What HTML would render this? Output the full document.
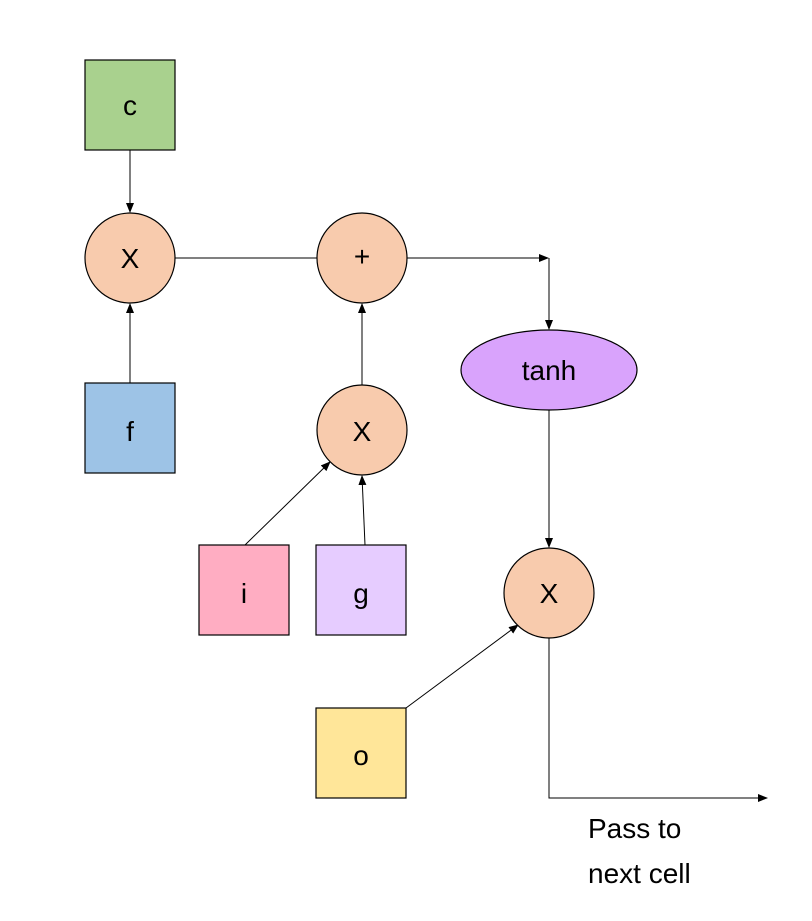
<!DOCTYPE html>
<html><head><style>body{margin:0;background:#fff}</style></head><body>
<svg width="812" height="916" xmlns="http://www.w3.org/2000/svg" font-family="Liberation Sans, sans-serif">
<defs><marker id="a" markerWidth="10" markerHeight="8" refX="9" refY="4" orient="auto" markerUnits="userSpaceOnUse"><path d="M0,0 L10,4 L0,8 z" fill="#000"/></marker></defs>
<g stroke="#000" stroke-width="1" fill="none">
<line x1="130" y1="150" x2="130" y2="212" marker-end="url(#a)"/>
<line x1="130" y1="383" x2="130" y2="304" marker-end="url(#a)"/>
<line x1="175" y1="258" x2="317" y2="258"/>
<polyline points="407,258 548,258" marker-end="url(#a)"/>
<line x1="549" y1="258" x2="549" y2="329" marker-end="url(#a)"/>
<line x1="362" y1="385" x2="362" y2="304" marker-end="url(#a)"/>
<line x1="245" y1="545" x2="330" y2="462" marker-end="url(#a)"/>
<line x1="365" y1="545" x2="362" y2="476" marker-end="url(#a)"/>
<line x1="549" y1="410" x2="549" y2="547" marker-end="url(#a)"/>
<line x1="406" y1="708" x2="518" y2="625" marker-end="url(#a)"/>
<polyline points="549,638 549,798 767,798" marker-end="url(#a)"/>
</g>
<g stroke="#000" stroke-width="1.2">
<rect x="85" y="60" width="90" height="90" fill="#a9d18e"/>
<rect x="85" y="383" width="90" height="90" fill="#9dc3e6"/>
<rect x="199" y="545" width="90" height="90" fill="#ffadc2"/>
<rect x="316" y="545" width="90" height="90" fill="#e6ccff"/>
<rect x="316" y="708" width="90" height="90" fill="#ffe699"/>
<circle cx="130" cy="258" r="45" fill="#f8cbad"/>
<circle cx="362" cy="258" r="45" fill="#f8cbad"/>
<circle cx="362" cy="430" r="45" fill="#f8cbad"/>
<circle cx="549" cy="593" r="45" fill="#f8cbad"/>
<ellipse cx="549" cy="370" rx="88" ry="40" fill="#d9a3fc"/>
</g>
<g font-size="28" text-anchor="middle" fill="#000">
<text x="130" y="115">c</text>
<text x="130" y="441">f</text>
<text x="244" y="603">i</text>
<text x="361" y="603">g</text>
<text x="361" y="765">o</text>
<text x="130" y="268">X</text>
<text x="362" y="266">+</text>
<text x="362" y="441">X</text>
<text x="549" y="603">X</text>
<text x="549" y="380">tanh</text>
</g>
<g font-size="28" fill="#000">
<text x="588" y="838">Pass to</text>
<text x="588" y="883">next cell</text>
</g>
</svg>
</body></html>
